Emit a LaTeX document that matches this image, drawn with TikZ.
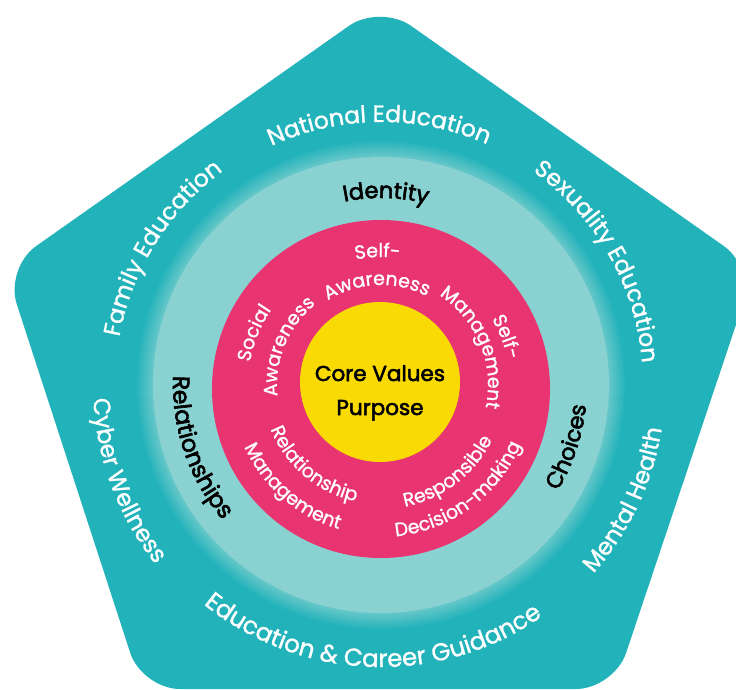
\documentclass[tikz,border=0pt]{standalone}
\usepackage{fontspec}
\setmainfont{Poppins}
\newfontfamily\popreg{Poppins}[FakeBold=1.2]
\newfontfamily\popbold{Poppins}[FakeBold=2.6]
\usetikzlibrary{calc,decorations.text}
\definecolor{tealout}{HTML}{21B2BA}
\definecolor{tealin}{HTML}{8AD2D1}
\definecolor{ringpink}{HTML}{E83470}
\definecolor{coreyellow}{HTML}{F9DA04}
\newcommand{\ringtxt}[6]{%
  \path[decorate, decoration={text along path, text align=center, text color=#2, text={|#1|#6}}]
    ($(C)+(#3+#4:#5)$) arc[start angle={#3+#4}, end angle={#3-#4}, radius=#5];%
}
\newcommand{\outf}{\popreg\fontsize{23.5}{25}\selectfont}
\newcommand{\botf}{\popreg\fontsize{24.5}{26}\selectfont}
\newcommand{\midf}{\popbold\fontsize{22.5}{24}\selectfont}
\newcommand{\relf}{\popbold\fontsize{23.5}{25}\selectfont}
\newcommand{\pinkf}{\popreg\fontsize{19}{21}\selectfont}
\begin{document}
\begin{tikzpicture}[x=1pt,y=1pt,
  corefont/.style={font=\popbold\fontsize{21.5}{24}\selectfont, text=black, anchor=base}]
\useasboundingbox (0,0) rectangle (736,-690);
\clip (0,0) rectangle (736,-690);
% pentagon
\coordinate (PT) at (380,-4);
\coordinate (PL) at (5,-268);
\coordinate (PR) at (755,-268);
\coordinate (PBL) at (142,-689);
\coordinate (PBR) at (614,-689);
\coordinate (PBM) at (378,-689);
\fill[tealout, rounded corners=38pt] (PBM) -- (PBR) -- (PR) -- (PT) -- (PL) -- (PBL) -- cycle;
% circles
\coordinate (C) at (381,-385);
\coordinate (CP) at (381,-389);
\coordinate (CY) at (380,-382);
\foreach \k in {0,...,17} {
  \pgfmathtruncatemacro\pp{65*\k/17}
  \fill[tealin!\pp!tealout] (C) circle[radius=246-\k];
}
\fill[tealin] (C) circle[radius=228];
\fill[ringpink] (CP) circle[radius=169];
\fill[coreyellow] (CY) circle[radius=80];
% outer ring texts
\ringtxt{\outf}{white}{90.4}{60}{263}{National Education}
\ringtxt{\outf}{white}{148}{60}{266}{Family Education}
\ringtxt{\outf}{white}{29.7}{60}{262}{Sexuality Education}
\ringtxt{\outf}{white}{-25.2}{-60}{284}{Mental Health}
\ringtxt{\botf}{white}{-92}{-70}{282}{Education {\&} Career Guidance}
\ringtxt{\outf}{white}{200.6}{-60}{288}{Cyber Wellness}
% middle ring texts
\ringtxt{\midf}{black}{88.5}{50}{187}{Identity}
\ringtxt{\relf}{black}{199}{-50}{208}{Relationships}
\ringtxt{\midf}{black}{-18.3}{-50}{206}{Choices}
% pink ring texts
\ringtxt{\pinkf}{white}{91.5}{50}{128}{Self-}
\ringtxt{\pinkf}{white}{92.4}{70}{100}{Awareness}
\ringtxt{\pinkf}{white}{157.8}{50}{133}{Social}
\ringtxt{\pinkf}{white}{157.5}{70}{104}{Awareness}
\ringtxt{\pinkf}{white}{21}{50}{129}{Self-}
\ringtxt{\pinkf}{white}{22.4}{70}{107}{Management}
\ringtxt{\pinkf}{white}{229.8}{-70}{119}{Relationship}
\ringtxt{\pinkf}{white}{229}{-60}{150}{Management}
\ringtxt{\pinkf}{white}{-52.5}{-70}{124}{Responsible}
\ringtxt{\pinkf}{white}{-53.8}{-60}{152}{Decision-making}
% core
\node[corefont] (core1) at (380,-381) {Core Values};
\node[corefont] (core2) at (380,-415) {Purpose};
\end{tikzpicture}
\end{document}
